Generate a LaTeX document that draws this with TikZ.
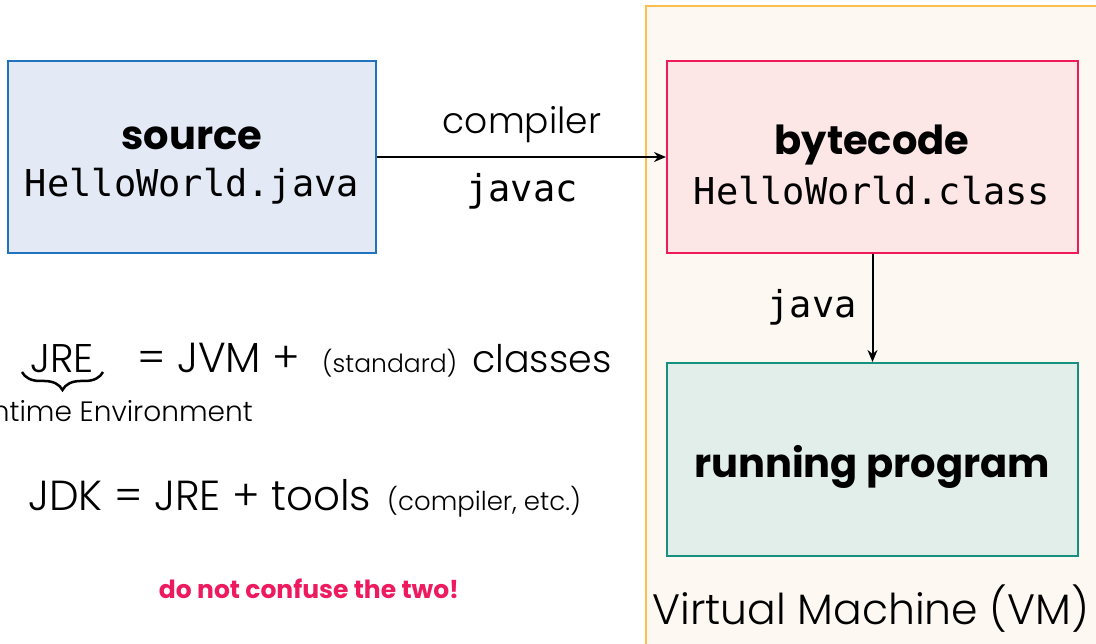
\documentclass[tikz,border=0pt]{standalone}
\usepackage{fontspec}
\setmainfont{Poppins}
\setmonofont{DejaVu Sans Mono}
\newfontfamily\lightfont{Poppins Light}
\usetikzlibrary{arrows.meta,decorations.pathreplacing}
\definecolor{srcfill}{HTML}{E3E9F5}
\definecolor{srcdraw}{HTML}{1F73BF}
\definecolor{bcfill}{HTML}{FCE6E6}
\definecolor{bcdraw}{HTML}{EF1A5A}
\definecolor{rpfill}{HTML}{E2EEEA}
\definecolor{rpdraw}{HTML}{16907F}
\definecolor{vmfill}{HTML}{FDF8F1}
\definecolor{vmdraw}{HTML}{FFBE4D}
\definecolor{warn}{HTML}{EE1A5F}
\tikzset{
  box/.style={draw, line width=2pt, rectangle, align=center, inner sep=0pt},
  boldtxt/.style={font=\fontsize{40}{46}\selectfont\bfseries},
  monotxt/.style={font=\fontsize{37}{44}\ttfamily},
  lighttxt/.style={font=\fontsize{#1}{#1}\lightfont},
  conn/.style={line width=2pt, -{Stealth[length=12pt,width=10pt]}},
}
\begin{document}
\begin{tikzpicture}[x=1pt,y=-1pt]
\useasboundingbox (0,0) rectangle (1096,644);
% VM container
\node[box, draw=vmdraw, fill=vmfill, minimum width=454pt, minimum height=644pt] (vm) at (873,328) {};
% boxes
\node[box, draw=srcdraw, fill=srcfill, minimum width=368pt, minimum height=192pt] (src) at (192,157) {};
\node[boldtxt] (srct) at (192,138) {source};
\node[monotxt] (srcf) at (192,186) {HelloWorld.java};
\node[box, draw=bcdraw, fill=bcfill, minimum width=411pt, minimum height=192pt] (bc) at (872.5,157) {};
\node[boldtxt] (bct) at (872,145) {bytecode};
\node[monotxt] (bcf) at (872,191) {HelloWorld.class};
\node[box, draw=rpdraw, fill=rpfill, minimum width=411pt, minimum height=193pt] (rp) at (872.5,459.5) {};
\node[boldtxt] (rpt) at (872,467) {running program};
% connectors
\draw[conn] (src.east) -- (bc.west);
\draw[conn] (bc.south) -- (rp.north);
\node[lighttxt=36] (lcomp) at (522,125) {compiler};
\node[monotxt] (ljavac) at (522,191) {javac};
\node[monotxt] (ljava) at (812,307) {java};
\node[lighttxt=42.5] (vml) at (871,609) {Virtual Machine (VM)};
% JRE line
\node[lighttxt=40, anchor=base west, inner sep=0pt] (jre) at (30,373) {JRE};
\node[lighttxt=42, anchor=base west, inner sep=0pt] (jvm) at (137,373) {= JVM +};
\node[lighttxt=25, anchor=base west, inner sep=0pt] (std) at (322,373) {(standard)};
\node[lighttxt=38, anchor=base west, inner sep=0pt] (cls) at (472,373) {classes};
\coordinate (bl) at (22,372);
\coordinate (br) at (103,372);
\draw[line width=2.5pt, decorate, decoration={brace, mirror, amplitude=18pt}] (bl) -- (br);
\node[lighttxt=28, anchor=base east, inner sep=0pt] (jrefull) at (253,421) {Java Runtime Environment};
% JDK line
\node[lighttxt=42, anchor=base west, inner sep=0pt] (jdk) at (28,511) {JDK = JRE + tools};
\node[lighttxt=26, anchor=base west, inner sep=0pt] (ce) at (387,511) {(compiler, etc.)};
\node[font=\fontsize{25}{30}\selectfont\bfseries, text=warn] (warnt) at (309,589) {do not confuse the two!};
\end{tikzpicture}
\end{document}
